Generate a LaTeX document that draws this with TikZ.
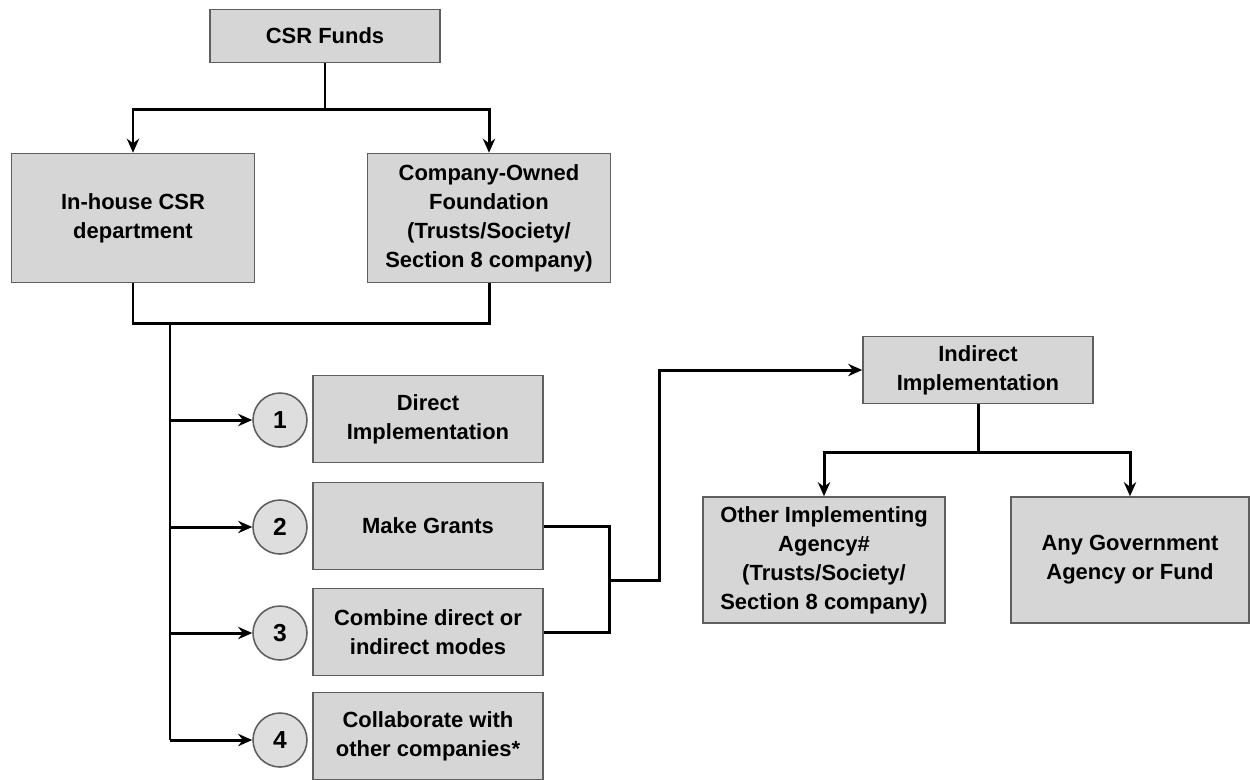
\documentclass[tikz,border=0pt]{standalone}
\usepackage{fontspec}
\setmainfont{Liberation Sans}
\usetikzlibrary{arrows.meta}
\definecolor{boxgray}{RGB}{214,214,214}
\definecolor{edgegray}{RGB}{95,95,95}
\tikzset{
    box/.style={draw=edgegray, line width=0.9pt, fill=boxgray, align=center,
        font=\fontsize{12.5}{16.5}\selectfont\bfseries, inner sep=2pt},
    num/.style={circle, draw=edgegray, line width=0.9pt, fill=boxgray!80,
        minimum size=1.08cm, inner sep=0pt, font=\fontsize{14}{16}\selectfont\bfseries},
    link/.style={line width=1.7pt, black},
    arr/.style={link, -{Stealth[length=8pt, width=7pt]}}
}
\begin{document}
\begin{tikzpicture}[x=0.02cm, y=-0.02cm]
        \useasboundingbox (0,0) rectangle (1250,779);
        \node[box, minimum width=4.6cm, minimum height=1.06cm] (funds) at (325,36) {CSR Funds};
        \node[box, minimum width=4.86cm, minimum height=2.58cm] (inhouse) at (133,218) {In-house CSR\\department};
        \node[box, minimum width=4.86cm, minimum height=2.58cm] (foundation) at (489,218)
            {Company-Owned\\Foundation\\(Trusts/Society/\\Section 8 company)};

        \node[num] (c1) at (280,420) {1};
        \node[num] (c2) at (280,527) {2};
        \node[num] (c3) at (280,633) {3};
        \node[num] (c4) at (280,740) {4};
        \node[box, minimum width=4.6cm, minimum height=1.74cm] (direct) at (428,419) {Direct\\Implementation};
        \node[box, minimum width=4.6cm, minimum height=1.74cm] (grants) at (428,526) {Make Grants};
        \node[box, minimum width=4.6cm, minimum height=1.74cm] (combine) at (428,632) {Combine direct or\\indirect modes};
        \node[box, minimum width=4.6cm, minimum height=1.74cm] (collab) at (428,736) {Collaborate with\\other companies*};

        \node[box, minimum width=4.6cm, minimum height=1.34cm] (indirect) at (978,370) {Indirect\\Implementation};
        \node[box, minimum width=4.84cm, minimum height=2.52cm] (other) at (824,560)
            {Other Implementing\\Agency\#\\(Trusts/Society/\\Section 8 company)};
        \node[box, minimum width=4.76cm, minimum height=2.52cm] (gov) at (1130,560) {Any Government\\Agency or Fund};

        \coordinate (split) at (325,109);
        \draw[link] (funds.south) -- (split);
        \draw[arr] (split) -| (inhouse.north);
        \draw[arr] (split) -| (foundation.north);

        \draw[link] (inhouse.south) -- ++(0,40) -| (foundation.south);
        \coordinate (bus) at (170,322);
        \draw[link] (bus) -- (170,740);
        \foreach \c in {c1,c2,c3,c4}
            \draw[arr] (bus |- \c) -- (\c);

        \coordinate (merge) at (609,580);
        \draw[link] (grants.east) -| (merge);
        \draw[link] (combine.east) -| (merge);
        \draw[arr] (merge) -- (659,580) |- (indirect.west);

        \coordinate (isplit) at (978,452);
        \draw[link] (indirect.south) -- (isplit);
        \draw[arr] (isplit) -| (other.north);
        \draw[arr] (isplit) -| (gov.north);
    \end{tikzpicture}
\end{document}
